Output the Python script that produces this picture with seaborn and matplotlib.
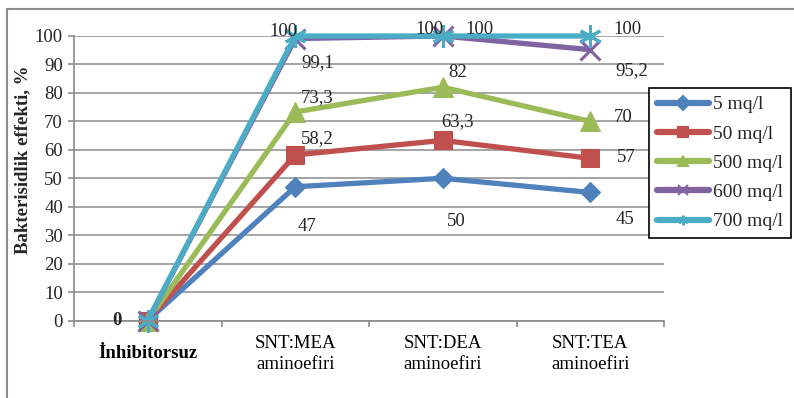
import matplotlib
matplotlib.use("Agg")
import matplotlib.pyplot as plt
from matplotlib.lines import Line2D
import pandas as pd
import seaborn as sns

# --- data ---
categories = ["İnhibitorsuz", "SNT:MEA\naminoefiri", "SNT:DEA\naminoefiri", "SNT:TEA\naminoefiri"]
series_names = ["5 mq/l", "50 mq/l", "500 mq/l", "600 mq/l", "700 mq/l"]
vals_5 = [0, 47, 50, 45]
vals_50 = [0, 58.2, 63.3, 57]
vals_500 = [0, 73.3, 82, 70]
vals_600 = [0, 99.1, 100, 95.2]
vals_700 = [0, 100, 100, 100]
label_texts = {
    "5 mq/l": ["", "47", "50", "45"],
    "50 mq/l": ["", "58,2", "63,3", "57"],
    "500 mq/l": ["", "73,3", "82", "70"],
    "600 mq/l": ["", "99,1", "100", "95,2"],
    "700 mq/l": ["0", "100", "100", "100"],
}
y_label = "Bakterisidlik effekti, %"

all_vals = [vals_5, vals_50, vals_500, vals_600, vals_700]
rows = []
for name, vals in zip(series_names, all_vals):
    for c, v in zip(categories, vals):
        rows.append({"cat": c, "val": v, "series": name})
df = pd.DataFrame(rows)

colors = {"5 mq/l": "#4F81BD", "50 mq/l": "#C0504D", "500 mq/l": "#9BBB59",
          "600 mq/l": "#8064A2", "700 mq/l": "#4BACC6"}
markers = {"5 mq/l": "D", "50 mq/l": "s", "500 mq/l": "^",
           "600 mq/l": "x", "700 mq/l": (6, 2, 0)}
msizes = {"5 mq/l": 10, "50 mq/l": 13, "500 mq/l": 14, "600 mq/l": 14, "700 mq/l": 16}

# label offsets in pixels (dx, dy) from each point
offsets = {
    "5 mq/l": [None, (12, -40), (13, -43), (35, -27)],
    "50 mq/l": [None, (22, 16), (15, 19), (36, 1)],
    "500 mq/l": [None, (22, 14), (15, 15), (33, 4)],
    "600 mq/l": [None, (22, -24), (-13, 7), (42, -21)],
    "700 mq/l": [(-31, 0), (-12, 5), (37, 7), (37, 7)],
}

sns.set_theme(style="white")
plt.rcParams["font.family"] = ["Liberation Serif", "DejaVu Serif"]
FS = 13.5

W, H = 794, 398
fig = plt.figure(figsize=(W / 100, H / 100), dpi=100)
ax = fig.add_axes([74 / W, 1 - 320.5 / H, 590 / W, (320.5 - 36) / H])

sns.lineplot(data=df, x="cat", y="val", hue="series",
             hue_order=series_names, palette=colors, sort=False,
             linewidth=3.8, legend=False, ax=ax)

for line, name in zip(ax.lines, series_names):
    c = colors[name]
    line.set_marker(markers[name])
    line.set_markersize(msizes[name])
    line.set_markeredgecolor(c)
    line.set_markerfacecolor(c)
    line.set_markeredgewidth(2.2 if name in ("600 mq/l", "700 mq/l") else 0.8)
    line.set_clip_on(False)
    line.set_solid_capstyle("round")

ax.set_xlim(-0.5, 3.5)
ax.set_ylim(0, 100)
ax.set_yticks(range(0, 101, 10))
ax.yaxis.grid(True, color="#8c8c8c", linewidth=1.1)
ax.xaxis.grid(False)
ax.set_axisbelow(True)
for s in ("top", "right"):
    ax.spines[s].set_visible(False)
for s in ("left", "bottom"):
    ax.spines[s].set_color("#8c8c8c")
    ax.spines[s].set_linewidth(1.2)

ax.set_xticks(range(len(categories)))
ax.set_xticklabels(categories)
ax.set_xticks([-0.5, 0.5, 1.5, 2.5, 3.5], minor=True)
ax.tick_params(axis="x", which="major", length=0, pad=24, labelsize=FS, colors="black")
ax.tick_params(axis="x", which="minor", length=4, width=1.2, color="#8c8c8c", bottom=True)
ax.tick_params(axis="y", which="major", length=4, width=1.2, color="#8c8c8c",
               left=True, labelsize=FS, pad=4)
for i, lbl in enumerate(ax.get_xticklabels()):
    lbl.set_va("center")
    lbl.set_linespacing(1.3)
    if i == 0:
        lbl.set_fontweight("bold")

ax.set_xlabel("")
ax.set_ylabel(y_label, fontsize=13.5, fontweight="bold")
ax.yaxis.set_label_coords(-(74 - 31) / 590, (320.5 - 160) / (320.5 - 36))

# value labels
for name, vals in zip(series_names, all_vals):
    for i, v in enumerate(vals):
        off = offsets[name][i]
        txt = label_texts[name][i]
        if off is None or not txt:
            continue
        ax.annotate(txt, xy=(i, v), xytext=off, textcoords="offset pixels",
                    ha="center", va="center", fontsize=FS,
                    fontweight="bold" if txt == "0" else "normal",
                    annotation_clip=False)

# legend
handles = [Line2D([0], [0], color=colors[n], lw=4.5, marker=markers[n],
                  markersize=7, markeredgecolor=colors[n], markerfacecolor=colors[n],
                  markeredgewidth=1.5, solid_capstyle="round")
           for n in series_names]
leg = fig.legend(handles, series_names, loc="upper left",
                 bbox_to_anchor=(649 / W, 1 - 88 / H), fontsize=14,
                 frameon=True, fancybox=False, framealpha=1,
                 handlelength=2.7, handletextpad=0.2, labelspacing=0.6,
                 borderpad=0.4, borderaxespad=0)
leg.get_frame().set_edgecolor("black")
leg.get_frame().set_linewidth(1.2)

# outer chart border
fig.add_artist(Line2D([7 / W, 1], [1 - 9 / H, 1 - 9 / H], color="#8c8c8c", lw=1.5))
fig.add_artist(Line2D([7 / W, 7 / W], [0, 1 - 9 / H], color="#8c8c8c", lw=1.5))

fig.savefig("out.png", dpi=100)
